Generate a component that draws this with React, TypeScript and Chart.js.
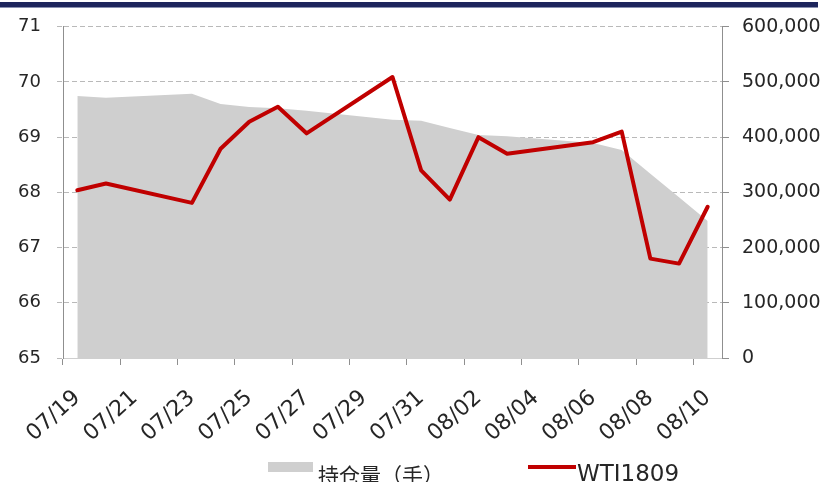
import React, { useEffect, useRef } from 'react';
import { Chart, registerables } from 'chart.js';

Chart.register(...registerables);

// ---- data ----
const dates = [
  '07/19', '07/20', '07/21', '07/22', '07/23', '07/24', '07/25', '07/26',
  '07/27', '07/28', '07/29', '07/30', '07/31', '08/01', '08/02', '08/03',
  '08/04', '08/05', '08/06', '08/07', '08/08', '08/09', '08/10',
];

// WTI1809 settlement price (left axis); weekends have no value
const wtiPrice: (number | null)[] = [
  68.04, 68.16, null, null, 67.81, 68.79, 69.28, 69.55,
  69.07, null, null, 70.09, 68.40, 67.87, 69.00, 68.70,
  null, null, 68.91, 69.10, 66.80, 66.71, 67.74,
];

// 持仓量（手） open interest (right axis)
const openInterest: (number | null)[] = [
  474700, 471600, null, null, 478800, 460300, 454500, 452500,
  447800, null, null, 431700, 429900, 416600, 404000, 401700,
  null, null, 389500, 377000, 334000, 291000, 248000,
];

const leftMin = 65;
const leftMax = 71;
const leftStep = 1;
const rightMin = 0;
const rightMax = 600000;
const rightStep = 100000;

const areaLabel = '持仓量（手）';
const lineLabel = 'WTI1809';

// ---- styles ----
const AREA_COLOR = '#cfcfcf';
const LINE_COLOR = '#c00000';
const GRID_COLOR = '#b9b9b9';
const AXIS_COLOR = '#8f8f8f';
const TEXT_COLOR = '#262626';
const TICK_FONT = { family: '"DejaVu Sans", Verdana, sans-serif', size: 18 };

const legendPlugin = {
  id: 'bottomLegend',
  afterDraw(chart: any) {
    const ctx = chart.ctx as CanvasRenderingContext2D;
    const ds = chart.data.datasets;
    const area = ds.find((d: any) => d.fill);
    const line = ds.find((d: any) => !d.fill);
    ctx.save();
    // area swatch
    ctx.fillStyle = area.backgroundColor;
    ctx.fillRect(268, 462, 45, 10);
    ctx.fillStyle = TEXT_COLOR;
    ctx.textBaseline = 'middle';
    ctx.textAlign = 'left';
    ctx.font = '21px "Noto Sans CJK SC", sans-serif';
    ctx.fillText(area.label, 318, 475);
    // line swatch
    ctx.strokeStyle = line.borderColor;
    ctx.lineWidth = 4;
    ctx.beginPath();
    ctx.moveTo(528, 467);
    ctx.lineTo(576, 467);
    ctx.stroke();
    ctx.font = '23px "DejaVu Sans", sans-serif';
    ctx.fillText(line.label, 577, 475);
    ctx.restore();
  },
};

export default function App() {
  const canvasRef = useRef<HTMLCanvasElement | null>(null);

  useEffect(() => {
    if (!canvasRef.current) return;
    const chart = new Chart(canvasRef.current, {
      type: 'line',
      data: {
        labels: dates,
        datasets: [
          {
            label: lineLabel,
            data: wtiPrice,
            yAxisID: 'y',
            borderColor: LINE_COLOR,
            backgroundColor: LINE_COLOR,
            borderWidth: 4,
            pointRadius: 0,
            pointHoverRadius: 0,
            tension: 0,
            spanGaps: true,
            fill: false,
            borderJoinStyle: 'round',
            borderCapStyle: 'round',
            order: 0,
          },
          {
            label: areaLabel,
            data: openInterest,
            yAxisID: 'y1',
            borderColor: AREA_COLOR,
            backgroundColor: AREA_COLOR,
            borderWidth: 0,
            pointRadius: 0,
            pointHoverRadius: 0,
            tension: 0,
            spanGaps: true,
            fill: 'origin',
            order: 1,
          },
        ],
      },
      options: {
        animation: false,
        responsive: false,
        maintainAspectRatio: false,
        layout: { padding: { top: 23, left: 0, right: 0, bottom: 0 } },
        plugins: {
          legend: { display: false },
          tooltip: { enabled: false },
        },
        scales: {
          x: {
            type: 'category',
            offset: true,
            grid: {
              offset: true,
              drawOnChartArea: false,
              drawTicks: true,
              tickLength: 7,
              color: (c: any) => (c.index % 2 === 0 ? AXIS_COLOR : 'rgba(0,0,0,0)'),
            },
            border: { display: true, color: '#cfcfcf' },
            ticks: {
              autoSkip: false,
              maxRotation: 42,
              minRotation: 42,
              padding: 20,
              color: TEXT_COLOR,
              font: { ...TICK_FONT, size: 22 },
              callback: (_v: any, i: number) => (i % 2 === 0 ? dates[i] : ''),
            },
            afterFit: (s: any) => {
              s.height = 124;
            },
          },
          y: {
            position: 'left',
            min: leftMin,
            max: leftMax,
            ticks: {
              stepSize: leftStep,
              padding: 16,
              color: TEXT_COLOR,
              font: TICK_FONT,
            },
            grid: {
              color: GRID_COLOR,
              tickColor: GRID_COLOR,
              tickLength: 6,
              tickBorderDash: [5, 3],
            },
            border: { display: true, color: AXIS_COLOR, dash: [5, 3] },
            afterFit: (s: any) => {
              s.width = 63;
            },
          },
          y1: {
            position: 'right',
            min: rightMin,
            max: rightMax,
            ticks: {
              stepSize: rightStep,
              padding: 13,
              color: TEXT_COLOR,
              font: { ...TICK_FONT, size: 19 },
              callback: (v: any) => Number(v).toLocaleString('en-US'),
            },
            grid: {
              drawOnChartArea: false,
              tickLength: 7,
              tickColor: AXIS_COLOR,
            },
            border: { display: true, color: AXIS_COLOR },
            afterFit: (s: any) => {
              s.width = 107;
            },
          },
        },
      },
      plugins: [legendPlugin],
    });
    return () => chart.destroy();
  }, []);

  return (
    <div style={{ position: 'absolute', left: 0, top: 0, width: 829, height: 482, background: '#fff', overflow: 'hidden' }}>
      <canvas ref={canvasRef} width={829} height={482} style={{ display: 'block', width: 829, height: 482 }} />
      <div style={{ position: 'absolute', left: 0, top: 2, width: 818, height: 5, background: '#1d255c', borderBottom: '1px solid #8a90b0' }} />
    </div>
  );
}
